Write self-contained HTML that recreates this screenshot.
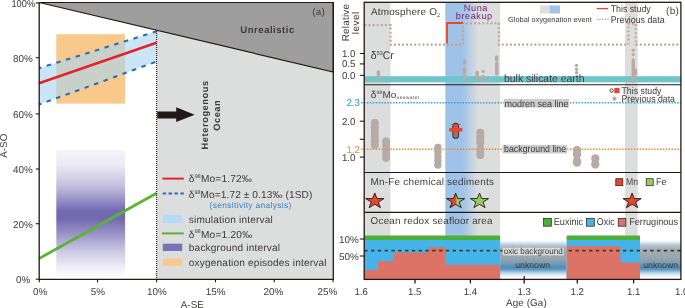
<!DOCTYPE html>
<html>
<head>
<meta charset="utf-8">
<title>Figure</title>
<style>
html,body{margin:0;padding:0;background:#fff;}
body{width:685px;height:308px;overflow:hidden;}
svg{display:block;will-change:transform;}
text{font-family:"Liberation Sans",sans-serif;fill:#3e3a39;text-rendering:geometricPrecision;}
</style>
</head>
<body>
<svg width="685" height="308" viewBox="0 0 685 308">
<defs>
<linearGradient id="purp" x1="0" y1="0" x2="0" y2="1">
<stop offset="0" stop-color="#f6f5fa"/>
<stop offset="0.12" stop-color="#ebe9f4"/>
<stop offset="0.28" stop-color="#c5c0de"/>
<stop offset="0.42" stop-color="#8d85c0"/>
<stop offset="0.48" stop-color="#7369b0"/>
<stop offset="0.54" stop-color="#7369b0"/>
<stop offset="0.66" stop-color="#9a93c8"/>
<stop offset="0.80" stop-color="#cdc9e4"/>
<stop offset="0.92" stop-color="#eeedf6"/>
<stop offset="1" stop-color="#fdfdfe"/>
</linearGradient>
<linearGradient id="bg2" x1="0" y1="0" x2="1" y2="0">
<stop offset="0" stop-color="#9fc3e8"/>
<stop offset="1" stop-color="#dcdddd"/>
</linearGradient>
<linearGradient id="unk" x1="0" y1="0" x2="0" y2="1">
<stop offset="0" stop-color="#ffffff"/>
<stop offset="0.06" stop-color="#e3edf4"/>
<stop offset="0.14" stop-color="#b7c6d1"/>
<stop offset="0.25" stop-color="#a4adb4"/>
<stop offset="0.49" stop-color="#99a4ac"/>
<stop offset="0.62" stop-color="#7b9db7"/>
<stop offset="0.73" stop-color="#4d8dba"/>
<stop offset="0.80" stop-color="#5e9bc4"/>
<stop offset="0.90" stop-color="#c3dbea"/>
<stop offset="1" stop-color="#ffffff"/>
</linearGradient>
</defs>
<rect x="0" y="0" width="685" height="308" fill="#ffffff"/>

<g id="panelA">
<polygon points="156.5,30.3 333.3,72 333.3,279.4 156.5,279.4" fill="#dcdddd"/>
<polygon points="39.2,2.5 333.3,2.5 333.3,72" fill="#9e9e9f" stroke="#231815" stroke-width="1.2"/>
<rect x="56.3" y="34.2" width="68.8" height="69.4" fill="#f8c98b"/>
<rect x="56.3" y="150" width="68.8" height="127" fill="url(#purp)"/>
<polygon points="39,68.3 156.5,31.4 156.5,61.6 39,104.6" fill="#a9d7f1" fill-opacity="0.62"/>
<line x1="39" y1="68.3" x2="156.5" y2="31.4" stroke="#2a6db5" stroke-width="2.1" stroke-dasharray="4.5 5.6" stroke-dashoffset="2"/>
<line x1="39" y1="104.6" x2="156.5" y2="61.6" stroke="#2a6db5" stroke-width="2.1" stroke-dasharray="4.5 5.6" stroke-dashoffset="2"/>
<line x1="39" y1="83.3" x2="156.5" y2="42.7" stroke="#e5222b" stroke-width="2.5"/>
<line x1="39" y1="258.6" x2="156.5" y2="193.3" stroke="#5bb431" stroke-width="2.8"/>
<line x1="156.6" y1="31" x2="156.6" y2="279.4" stroke="#231815" stroke-width="1.1" stroke-dasharray="1 1"/>
<polygon points="157.3,111.4 176.2,111.4 176.2,107.3 194.7,114.7 176.2,122 176.2,118.4 157.3,118.4" fill="#231815"/>
<polyline points="39.2,2.5 39.2,279.4 333.3,279.4 333.3,2.5" fill="none" stroke="#231815" stroke-width="1.3"/>
<g stroke="#231815" stroke-width="1.1">
<line x1="35.8" y1="2.9" x2="39" y2="2.9"/>
<line x1="35.8" y1="57.7" x2="39" y2="57.7"/>
<line x1="35.8" y1="113.9" x2="39" y2="113.9"/>
<line x1="35.8" y1="169.0" x2="39" y2="169.0"/>
<line x1="35.8" y1="223.7" x2="39" y2="223.7"/>
<line x1="35.8" y1="279.2" x2="39" y2="279.2"/>
<line x1="39.3" y1="279.4" x2="39.3" y2="282.3"/>
<line x1="97.5" y1="279.4" x2="97.5" y2="282.3"/>
<line x1="156.6" y1="279.4" x2="156.6" y2="282.3"/>
<line x1="215.5" y1="279.4" x2="215.5" y2="282.3"/>
<line x1="274.2" y1="279.4" x2="274.2" y2="282.3"/>
<line x1="333.0" y1="279.4" x2="333.0" y2="282.3"/>
</g>
<text transform="translate(35.20,7.14) scale(0.9400,1)" x="-25.32" y="0" font-size="9.90">100%</text>
<text transform="translate(32.80,61.64) scale(1.0000,1)" x="-19.81" y="0" font-size="9.90">80%</text>
<text transform="translate(32.80,118.24) scale(1.0000,1)" x="-19.81" y="0" font-size="9.90">60%</text>
<text transform="translate(32.80,173.24) scale(1.0000,1)" x="-19.81" y="0" font-size="9.90">40%</text>
<text transform="translate(32.80,227.94) scale(1.0000,1)" x="-19.81" y="0" font-size="9.90">20%</text>
<text transform="translate(30.40,282.74) scale(1.0000,1)" x="-14.31" y="0" font-size="9.90">0%</text>
<text transform="translate(40.20,295.14) scale(1.0000,1)" x="-7.15" y="0" font-size="9.90">0%</text>
<text transform="translate(98.00,295.14) scale(1.0000,1)" x="-7.15" y="0" font-size="9.90">5%</text>
<text transform="translate(157.00,295.14) scale(1.0000,1)" x="-9.91" y="0" font-size="9.90">10%</text>
<text transform="translate(215.60,295.14) scale(1.0000,1)" x="-9.91" y="0" font-size="9.90">15%</text>
<text transform="translate(273.50,295.14) scale(1.0000,1)" x="-9.91" y="0" font-size="9.90">20%</text>
<text transform="translate(327.30,295.14) scale(1.0000,1)" x="-9.91" y="0" font-size="9.90">25%</text>
<text transform="translate(192.30,307.74) scale(0.9954,1)" x="-11.55" y="0" font-size="9.90">A-SE</text>
<text transform="translate(7.44,145.70) rotate(-90) scale(0.9916,1)" x="-12.10" y="0" font-size="9.90">A-SO</text>
<text transform="translate(240.30,32.84) scale(1.0000,1)" x="0.00" y="0" font-size="9.60" font-weight="bold" letter-spacing="0.492">Unrealistic</text>
<text transform="translate(312.20,15.34) scale(1.0000,1)" x="0.00" y="0" font-size="9.90" letter-spacing="0.201">(a)</text>
<text transform="translate(208.33,115.10) rotate(-90) scale(1.0000,1)" x="-34.35" y="0" font-size="9.30" font-weight="bold" letter-spacing="0.562">Heterogenous</text>
<text transform="translate(219.93,115.50) rotate(-90) scale(1.0000,1)" x="-15.20" y="0" font-size="9.30" font-weight="bold" letter-spacing="0.493">Ocean</text>
<line x1="162.5" y1="178.6" x2="183.8" y2="178.6" stroke="#e5222b" stroke-width="2"/>
<text transform="translate(188.80,182.02) scale(1.0000,1)" x="0" y="0" font-size="10.10" letter-spacing="0.205">δ<tspan font-size="5.25" dy="-4.04">98</tspan><tspan dy="4.04">Mo=1.72‰</tspan></text>
<line x1="162.7" y1="193.5" x2="183.8" y2="193.5" stroke="#2a6db5" stroke-width="2" stroke-dasharray="3.4 2.5"/>
<text transform="translate(188.80,198.02) scale(1.0000,1)" x="0" y="0" font-size="10.10" letter-spacing="0.103">δ<tspan font-size="5.25" dy="-4.04">98</tspan><tspan dy="4.04">Mo=1.72 ± 0.13‰ (1SD)</tspan></text>
<text transform="translate(209.60,208.11) scale(1.0000,1)" x="0.00" y="0" font-size="8.40" style="fill:#3b80c2" letter-spacing="0.348">(sensitivity analysis)</text>
<rect x="162.8" y="215.2" width="19.4" height="7.8" fill="#b3dbf4"/>
<text transform="translate(188.80,222.92) scale(1.0000,1)" x="0.00" y="0" font-size="10.10" letter-spacing="0.176">simulation interval</text>
<line x1="162" y1="233.4" x2="183.8" y2="233.4" stroke="#5bb431" stroke-width="2"/>
<text transform="translate(188.80,237.52) scale(1.0000,1)" x="0" y="0" font-size="10.10" letter-spacing="0.235">δ<tspan font-size="5.25" dy="-4.04">98</tspan><tspan dy="4.04">Mo=1.20‰</tspan></text>
<rect x="162.8" y="243.7" width="19.4" height="7.3" fill="#7d72b7"/>
<text transform="translate(188.80,250.92) scale(1.0000,1)" x="0.00" y="0" font-size="10.10" letter-spacing="0.175">background interval</text>
<rect x="162.8" y="258.6" width="19.4" height="7.2" fill="#f8c98b"/>
<text transform="translate(188.80,265.62) scale(1.0000,1)" x="0.00" y="0" font-size="10.10" letter-spacing="0.169">oxygenation episodes interval</text>
</g>
<g id="panelB">
<rect x="364.2" y="2.3" width="26.2" height="277.1" fill="#dcdddd"/>
<rect x="445.3" y="2.3" width="18" height="277.1" fill="#9fc3e8"/>
<rect x="463" y="2.3" width="15" height="277.1" fill="url(#bg2)"/>
<rect x="477.9" y="2.3" width="22.2" height="277.1" fill="#dcdddd"/>
<rect x="625" y="2.3" width="12.7" height="277.1" fill="#dcdddd"/>
<polyline points="364.5,25.1 390.6,25.1 390.6,44.6 463,44.6" stroke="#bfa493" stroke-width="2.1" stroke-dasharray="1.9 2.18" fill="none"/>
<polyline points="463,44.6 463,23.2 498.8,23.2 498.8,44.6 628.3,44.6" stroke="#bfa493" stroke-width="2.1" stroke-dasharray="1.9 2.18" fill="none"/>
<polyline points="628.3,44.6 628.3,23.8 635.8,23.8 635.8,44.6 681,44.6" stroke="#bfa493" stroke-width="2.1" stroke-dasharray="1.9 2.18" fill="none"/>
<polyline points="447,43.6 447,23 462.8,23" fill="none" stroke="#e8452c" stroke-width="1.8"/>
<text transform="translate(348.74,22.60) rotate(-90) scale(1.0000,1)" x="-18.65" y="0" font-size="9.90" letter-spacing="0.219">Relative</text>
<text transform="translate(359.24,23.00) rotate(-90) scale(1.0000,1)" x="-11.15" y="0" font-size="9.90" letter-spacing="0.485">level</text>
<text transform="translate(371,14.94)" font-size="9.9" letter-spacing="0.201">Atmosphere O<tspan font-size="5.5" dy="1.6">2</tspan></text>
<text transform="translate(475.60,11.49) scale(1.0000,1)" x="-11.85" y="0" font-size="9.20" style="fill:#74177b" letter-spacing="0.569">Nuna</text>
<text transform="translate(474.00,18.89) scale(1.0000,1)" x="-18.25" y="0" font-size="9.20" style="fill:#74177b" letter-spacing="0.543">breakup</text>
<rect x="540" y="5.4" width="9.7" height="8.1" fill="#dcdddd"/>
<rect x="549.7" y="5.4" width="10.3" height="8.1" fill="#9fc3e8"/>
<text transform="translate(508.10,21.95) scale(1.0000,1)" x="0.00" y="0" font-size="7.40" letter-spacing="0.008">Global oxygenation event</text>
<line x1="596.7" y1="8.6" x2="608" y2="8.6" stroke="#e8452c" stroke-width="1.3"/>
<text transform="translate(610.70,11.87) scale(0.9049,1)" x="0.00" y="0" font-size="9.70">This study</text>
<line x1="596.7" y1="19.4" x2="608.6" y2="19.4" stroke="#bfa493" stroke-width="1.3" stroke-dasharray="1.3 1.35"/>
<text transform="translate(610.70,22.67) scale(0.9105,1)" x="0.00" y="0" font-size="9.70">Previous data</text>
<text transform="translate(666.00,14.34) scale(1.0000,1)" x="0.00" y="0" font-size="9.90" letter-spacing="0.351">(b)</text>
<rect x="364.2" y="76.2" width="316.7" height="6.2" fill="#6ec6cc"/>
<text transform="translate(504.00,82.17) scale(0.9648,1)" x="0.00" y="0" font-size="10.80">bulk silicate earth</text>
<line x1="378.4" y1="71.9" x2="378.4" y2="74.5" stroke="#b7aba3" stroke-width="3.4" stroke-linecap="round"/>
<line x1="378.4" y1="77.3" x2="378.4" y2="80.5" stroke="#b7aba3" stroke-width="3.4" stroke-linecap="round"/>
<line x1="464.5" y1="61.0" x2="464.5" y2="63.5" stroke="#b7aba3" stroke-width="3.4" stroke-linecap="round"/>
<line x1="464.5" y1="68.1" x2="464.5" y2="71.7" stroke="#b7aba3" stroke-width="3.4" stroke-linecap="round"/>
<line x1="464.5" y1="74.9" x2="464.5" y2="79.9" stroke="#b7aba3" stroke-width="3.4" stroke-linecap="round"/>
<line x1="477.1" y1="72.3" x2="477.1" y2="78.5" stroke="#b7aba3" stroke-width="3.4" stroke-linecap="round"/>
<circle cx="483.2" cy="71.4" r="1.6" fill="#b7aba3"/>
<line x1="483.2" y1="76.5" x2="483.2" y2="79.9" stroke="#b7aba3" stroke-width="3.4" stroke-linecap="round"/>
<line x1="496.7" y1="56.9" x2="496.7" y2="59.9" stroke="#b7aba3" stroke-width="3.4" stroke-linecap="round"/>
<line x1="496.7" y1="63.3" x2="496.7" y2="74.1" stroke="#b7aba3" stroke-width="3.4" stroke-linecap="round"/>
<circle cx="576.6" cy="65.4" r="1.7" fill="#b7aba3"/>
<circle cx="576.6" cy="69.2" r="1.7" fill="#b7aba3"/>
<circle cx="576.6" cy="72.8" r="1.7" fill="#b7aba3"/>
<circle cx="633.3" cy="50.2" r="1.6" fill="#b7aba3"/>
<circle cx="633.3" cy="54.6" r="1.6" fill="#b7aba3"/>
<line x1="633.3" y1="59.9" x2="633.3" y2="80.7" stroke="#b7aba3" stroke-width="3.4" stroke-linecap="round"/>
<line x1="635.4" y1="70.2" x2="635.4" y2="73.9" stroke="#b7aba3" stroke-width="3.4" stroke-linecap="round"/>
<text transform="translate(370.80,58.94) scale(0.9547,1)" x="0" y="0" font-size="11.00" letter-spacing="0.000">δ<tspan font-size="5.72" dy="-4.40">53</tspan><tspan dy="4.40">Cr</tspan></text>
<line x1="359.8" y1="53.5" x2="364.2" y2="53.5" stroke="#231815" stroke-width="1.1"/>
<text transform="translate(341.90,57.04) scale(0.9883,1)" x="0.00" y="0" font-size="9.90">1.0</text>
<line x1="359.8" y1="63.9" x2="364.2" y2="63.9" stroke="#231815" stroke-width="1.1"/>
<text transform="translate(341.90,67.44) scale(0.9883,1)" x="0.00" y="0" font-size="9.90">0.5</text>
<line x1="359.8" y1="75.4" x2="364.2" y2="75.4" stroke="#231815" stroke-width="1.1"/>
<text transform="translate(341.90,78.94) scale(0.9883,1)" x="0.00" y="0" font-size="9.90">0.0</text>
<line x1="361.2" y1="102.8" x2="680.9" y2="102.8" stroke="#27a3e2" stroke-width="1.5" stroke-dasharray="1.45 1.45"/>
<line x1="361.2" y1="149.2" x2="680.9" y2="149.2" stroke="#ee8a22" stroke-width="1.5" stroke-dasharray="1.45 1.45"/>
<rect x="503.8" y="99" width="65.2" height="8.6" fill="#cccdcd"/>
<text transform="translate(504.50,106.81) scale(0.9179,1)" x="0.00" y="0" font-size="9.80">modren sea line</text>
<rect x="502.5" y="144.8" width="64.5" height="8.7" fill="#cccdcd"/>
<text transform="translate(504.10,152.41) scale(0.8961,1)" x="0.00" y="0" font-size="9.80">background line</text>
<line x1="374.8" y1="122.2" x2="374.8" y2="145.7" stroke="#b7aba3" stroke-width="6.6" stroke-linecap="round"/>
<circle cx="374.8" cy="122.9" r="4.0" fill="#b7aba3"/>
<circle cx="374.8" cy="127.3" r="4.0" fill="#b7aba3"/>
<circle cx="374.8" cy="131.7" r="4.0" fill="#b7aba3"/>
<circle cx="374.8" cy="136.2" r="4.0" fill="#b7aba3"/>
<circle cx="374.8" cy="140.6" r="4.0" fill="#b7aba3"/>
<circle cx="374.8" cy="145.0" r="4.0" fill="#b7aba3"/>
<line x1="386.1" y1="140.8" x2="386.1" y2="158.5" stroke="#b7aba3" stroke-width="6.4" stroke-linecap="round"/>
<circle cx="386.1" cy="141.5" r="3.9" fill="#b7aba3"/>
<circle cx="386.1" cy="145.6" r="3.9" fill="#b7aba3"/>
<circle cx="386.1" cy="149.7" r="3.9" fill="#b7aba3"/>
<circle cx="386.1" cy="153.7" r="3.9" fill="#b7aba3"/>
<circle cx="386.1" cy="157.8" r="3.9" fill="#b7aba3"/>
<line x1="437.9" y1="146.8" x2="437.9" y2="165.6" stroke="#b7aba3" stroke-width="6.0" stroke-linecap="round"/>
<circle cx="437.9" cy="147.5" r="3.7" fill="#b7aba3"/>
<circle cx="437.9" cy="151.8" r="3.7" fill="#b7aba3"/>
<circle cx="437.9" cy="156.2" r="3.7" fill="#b7aba3"/>
<circle cx="437.9" cy="160.5" r="3.7" fill="#b7aba3"/>
<circle cx="437.9" cy="164.9" r="3.7" fill="#b7aba3"/>
<line x1="480.3" y1="132.2" x2="480.3" y2="143.2" stroke="#b7aba3" stroke-width="6.8" stroke-linecap="round"/>
<circle cx="480.3" cy="132.9" r="4.1" fill="#b7aba3"/>
<circle cx="480.3" cy="137.7" r="4.1" fill="#b7aba3"/>
<circle cx="480.3" cy="142.5" r="4.1" fill="#b7aba3"/>
<line x1="480.3" y1="148.6" x2="480.3" y2="155.6" stroke="#b7aba3" stroke-width="6.8" stroke-linecap="round"/>
<circle cx="480.3" cy="149.3" r="4.1" fill="#b7aba3"/>
<circle cx="480.3" cy="154.9" r="4.1" fill="#b7aba3"/>
<line x1="577.0" y1="149.6" x2="577.0" y2="155.0" stroke="#b7aba3" stroke-width="6.9" stroke-linecap="round"/>
<circle cx="577.0" cy="150.3" r="4.2" fill="#b7aba3"/>
<circle cx="577.0" cy="154.2" r="4.2" fill="#b7aba3"/>
<line x1="577.0" y1="160.4" x2="577.0" y2="163.1" stroke="#b7aba3" stroke-width="6.9" stroke-linecap="round"/>
<circle cx="577.0" cy="161.2" r="4.2" fill="#b7aba3"/>
<circle cx="577.0" cy="162.3" r="4.2" fill="#b7aba3"/>
<line x1="595.3" y1="157.8" x2="595.3" y2="165.0" stroke="#b7aba3" stroke-width="6.8" stroke-linecap="round"/>
<circle cx="595.3" cy="158.5" r="4.1" fill="#b7aba3"/>
<circle cx="595.3" cy="164.3" r="4.1" fill="#b7aba3"/>
<rect x="452.9" y="123.4" width="5.6" height="14.8" rx="2.8" fill="#8c8683" stroke="#3a302d" stroke-width="1.1"/>
<rect x="449.4" y="127.9" width="12.9" height="3.6" fill="#e8452c"/>
<rect x="454.7" y="124.3" width="2.1" height="11" fill="#e8452c"/>
<rect x="451" y="124.2" width="9.6" height="0.9" fill="#e8452c"/>
<text transform="translate(370.80,98.18) scale(1.0000,1)" x="0" y="0" font-size="10.00" letter-spacing="0.090">δ<tspan font-size="5.20" dy="-4.00">98</tspan><tspan dy="4.00">Mo</tspan><tspan font-size="4.7" dx="0.4" dy="1.0" letter-spacing="0.5">seawater</tspan></text>
<text transform="translate(346.40,106.34) scale(0.9883,1)" x="0.00" y="0" font-size="9.90" style="fill:#27a3e2">2.3</text>
<text transform="translate(346.40,152.74) scale(0.9883,1)" x="0.00" y="0" font-size="9.90" style="fill:#ee8a22">1.2</text>
<line x1="359.8" y1="121.2" x2="364.2" y2="121.2" stroke="#231815" stroke-width="1.1"/>
<text transform="translate(341.90,124.74) scale(0.9883,1)" x="0.00" y="0" font-size="9.90">2.0</text>
<line x1="359.8" y1="139.3" x2="364.2" y2="139.3" stroke="#231815" stroke-width="1.1"/>
<line x1="359.8" y1="157.1" x2="364.2" y2="157.1" stroke="#231815" stroke-width="1.1"/>
<text transform="translate(341.90,160.64) scale(0.9883,1)" x="0.00" y="0" font-size="9.90">1.0</text>
<circle cx="611.6" cy="90.6" r="1.7" fill="#fff" stroke="#231815" stroke-width="0.8"/>
<rect x="614.3" y="88" width="5.2" height="5.2" fill="#e8452c"/>
<text transform="translate(621.50,93.77) scale(0.9049,1)" x="0.00" y="0" font-size="9.70">This study</text>
<circle cx="614.5" cy="98.7" r="2.1" fill="#b7aba3"/>
<text transform="translate(621.50,102.07) scale(0.9020,1)" x="0.00" y="0" font-size="9.70">Previous data</text>
<polygon points="374.80,193.00 376.98,198.55 383.89,198.60 378.34,202.07 380.42,207.65 374.80,204.25 369.18,207.65 371.26,202.07 365.71,198.60 372.62,198.55" fill="#e8452c" stroke="#231815" stroke-width="0.9" stroke-linejoin="miter"/>
<clipPath id="hl"><rect x="440" y="185" width="16.3" height="30"/></clipPath>
<polygon points="455.60,193.00 457.78,198.55 464.69,198.60 459.14,202.07 461.22,207.65 455.60,204.25 449.98,207.65 452.06,202.07 446.51,198.60 453.42,198.55" fill="#97cd5f"/>
<polygon points="455.60,193.00 457.78,198.55 464.69,198.60 459.14,202.07 461.22,207.65 455.60,204.25 449.98,207.65 452.06,202.07 446.51,198.60 453.42,198.55" fill="#e8452c" clip-path="url(#hl)"/>
<polygon points="455.60,193.00 457.78,198.55 464.69,198.60 459.14,202.07 461.22,207.65 455.60,204.25 449.98,207.65 452.06,202.07 446.51,198.60 453.42,198.55" fill="none" stroke="#231815" stroke-width="0.9"/>
<polygon points="479.50,193.00 481.68,198.55 488.59,198.60 483.04,202.07 485.12,207.65 479.50,204.25 473.88,207.65 475.96,202.07 470.41,198.60 477.32,198.55" fill="#97cd5f" stroke="#231815" stroke-width="0.9" stroke-linejoin="miter"/>
<polygon points="632.10,193.00 634.28,198.55 641.19,198.60 635.64,202.07 637.72,207.65 632.10,204.25 626.48,207.65 628.56,202.07 623.01,198.60 629.92,198.55" fill="#e8452c" stroke="#231815" stroke-width="0.9" stroke-linejoin="miter"/>
<text transform="translate(370.60,185.04) scale(1.0000,1)" x="0.00" y="0" font-size="9.90" letter-spacing="0.231">Mn-Fe chemical sediments</text>
<rect x="615.8" y="178.7" width="7" height="7" fill="#e8452c" stroke="#231815" stroke-width="0.7"/>
<text transform="translate(626.00,185.38) scale(0.8639,1)" x="0.00" y="0" font-size="10.00">Mn</text>
<rect x="646.2" y="178.7" width="7" height="7" fill="#97cd5f" stroke="#231815" stroke-width="0.7"/>
<text transform="translate(656.00,185.38) scale(0.8827,1)" x="0.00" y="0" font-size="10.00">Fe</text>
<rect x="500.1" y="240" width="66.5" height="37" fill="url(#unk)"/>
<rect x="640" y="240" width="40.9" height="37" fill="url(#unk)"/>
<line x1="415.0" y1="276.1" x2="415.0" y2="283.4" stroke="#231815" stroke-width="1.3"/>
<line x1="470.4" y1="276.1" x2="470.4" y2="283.4" stroke="#231815" stroke-width="1.3"/>
<line x1="524.2" y1="276.1" x2="524.2" y2="283.4" stroke="#231815" stroke-width="1.3"/>
<line x1="577.3" y1="276.1" x2="577.3" y2="283.4" stroke="#231815" stroke-width="1.3"/>
<line x1="633.6" y1="276.1" x2="633.6" y2="283.4" stroke="#231815" stroke-width="1.3"/>
<rect x="364.2" y="235.5" width="135.9" height="4.6" fill="#4fae38"/>
<rect x="364.2" y="240" width="135.9" height="39" fill="#45b5e9"/>
<polygon points="364.2,279 364.2,270 378,270 378,261.2 393.4,261.2 393.4,252.5 428.5,252.5 428.5,247.2 445.4,247.2 445.4,264.7 500.1,264.7 500.1,279" fill="#dc7366"/>
<rect x="566.6" y="235.5" width="73.4" height="4.6" fill="#4fae38"/>
<rect x="566.6" y="240" width="73.4" height="39" fill="#45b5e9"/>
<polygon points="566.6,279 566.6,246 620.4,246 620.4,262.4 640,262.4 640,279" fill="#dc7366"/>
<line x1="364.2" y1="250.7" x2="502.7" y2="250.7" stroke="#3e3a39" stroke-width="1.7" stroke-dasharray="3.4 3.4"/>
<line x1="568.6" y1="250.7" x2="680.9" y2="250.7" stroke="#3e3a39" stroke-width="1.7" stroke-dasharray="3.4 3.4"/>
<rect x="502.7" y="247.8" width="61" height="7.6" fill="#dadbdb"/>
<text transform="translate(503.70,254.48) scale(0.9421,1)" x="0.00" y="0" font-size="8.60">oxic background</text>
<text transform="translate(515.30,267.95) scale(0.9851,1)" x="0.00" y="0" font-size="8.80">unknown</text>
<text transform="translate(643.30,267.95) scale(0.9851,1)" x="0.00" y="0" font-size="8.80">unknown</text>
<text transform="translate(370.60,224.24) scale(1.0000,1)" x="0.00" y="0" font-size="9.90" letter-spacing="0.208">Ocean redox seafloor area</text>
<rect x="543.6" y="218.5" width="7.7" height="7.7" fill="#4fae38" stroke="#231815" stroke-width="0.7"/>
<text transform="translate(553.80,225.48) scale(0.9058,1)" x="0.00" y="0" font-size="10.00">Euxinic</text>
<rect x="586.6" y="218.5" width="7.7" height="7.7" fill="#45b5e9" stroke="#231815" stroke-width="0.7"/>
<text transform="translate(596.80,225.48) scale(0.8900,1)" x="0.00" y="0" font-size="10.00">Oxic</text>
<rect x="618.2" y="218.5" width="7.7" height="7.7" fill="#dc7366" stroke="#231815" stroke-width="0.7"/>
<text transform="translate(629.20,225.48) scale(0.9146,1)" x="0.00" y="0" font-size="10.00">Ferruginous</text>
<line x1="359.8" y1="239.0" x2="364.2" y2="239.0" stroke="#231815" stroke-width="1.1"/>
<text transform="translate(358.70,243.04) scale(1.0000,1)" x="-19.81" y="0" font-size="9.90">10%</text>
<line x1="359.8" y1="256.0" x2="364.2" y2="256.0" stroke="#231815" stroke-width="1.1"/>
<text transform="translate(358.70,259.54) scale(1.0000,1)" x="-19.81" y="0" font-size="9.90">50%</text>
<rect x="364.2" y="2.3" width="316.7" height="277.1" fill="none" stroke="#231815" stroke-width="1.3"/>
<line x1="364.2" y1="84.7" x2="680.9" y2="84.7" stroke="#231815" stroke-width="1.1"/>
<line x1="364.2" y1="172.5" x2="680.9" y2="172.5" stroke="#231815" stroke-width="1.1"/>
<line x1="364.2" y1="212.4" x2="680.9" y2="212.4" stroke="#231815" stroke-width="1.1"/>
<text transform="translate(361.30,294.54) scale(0.9738,1)" x="-6.88" y="0" font-size="9.90">1.6</text>
<text transform="translate(414.80,294.54) scale(0.9738,1)" x="-6.88" y="0" font-size="9.90">1.5</text>
<text transform="translate(470.40,294.54) scale(0.9738,1)" x="-6.88" y="0" font-size="9.90">1.4</text>
<text transform="translate(524.20,294.54) scale(0.9738,1)" x="-6.88" y="0" font-size="9.90">1.3</text>
<text transform="translate(577.30,294.54) scale(0.9738,1)" x="-6.88" y="0" font-size="9.90">1.2</text>
<text transform="translate(633.60,294.54) scale(0.9738,1)" x="-6.88" y="0" font-size="9.90">1.1</text>
<text transform="translate(675.00,294.54) scale(0.9738,1)" x="0.00" y="0" font-size="9.90">1.0</text>
<text transform="translate(506.00,305.54) scale(1.0000,1)" x="0.00" y="0" font-size="9.90" letter-spacing="0.091">Age (Ga)</text>
</g>
</svg>
</body>
</html>
